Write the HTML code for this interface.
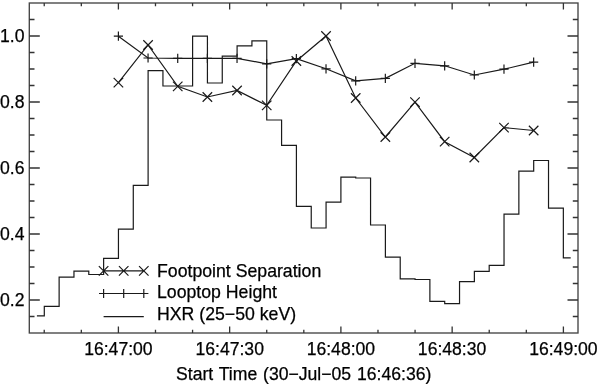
<!DOCTYPE html>
<html><head><meta charset="utf-8"><title>plot</title>
<style>
html,body{margin:0;padding:0;background:#fff;}
svg{display:block;will-change:transform}
text{font-family:"Liberation Sans",sans-serif;font-size:17.6px;fill:#000;stroke:#000;stroke-width:0.25px;}
</style></head><body>
<svg width="600" height="384" viewBox="0 0 600 384">
<rect width="600" height="384" fill="#fff"/>
<g fill="none" stroke="#1a1a1a" stroke-width="1.2" stroke-linejoin="miter">
<path d="M36.90,315.80 L44.30,315.80 L44.30,306.40 L59.13,306.40 L59.13,277.20 L73.96,277.20 L73.96,271.20 L88.79,271.20 L88.79,274.50 L103.62,274.50 L103.62,258.30 L118.45,258.30 L118.45,229.20 L133.28,229.20 L133.28,185.30 L148.11,185.30 L148.11,70.70 L162.94,70.70 L162.94,86.00 L177.77,86.00 L177.77,86.00 L192.60,86.00 L192.60,36.20 L207.43,36.20 L207.43,83.00 L222.26,83.00 L222.26,56.20 L237.09,56.20 L237.09,45.80 L251.92,45.80 L251.92,40.80 L266.75,40.80 L266.75,120.00 L281.58,120.00 L281.58,145.30 L296.41,145.30 L296.41,206.30 L311.24,206.30 L311.24,228.00 L326.07,228.00 L326.07,202.20 L340.90,202.20 L340.90,177.20 L355.73,177.20 L355.73,178.00 L370.56,178.00 L370.56,225.00 L385.39,225.00 L385.39,257.20 L400.22,257.20 L400.22,278.80 L415.05,278.80 L415.05,279.50 L429.88,279.50 L429.88,301.30 L444.71,301.30 L444.71,303.70 L459.54,303.70 L459.54,281.70 L474.37,281.70 L474.37,271.30 L489.20,271.30 L489.20,265.30 L504.03,265.30 L504.03,214.20 L518.86,214.20 L518.86,171.20 L533.69,171.20 L533.69,160.50 L548.52,160.50 L548.52,208.20 L563.35,208.20 L563.35,257.80 L570.70,257.80"/>
<path d="M118.40,36.20 L148.06,58.00 L177.72,58.30 L207.38,58.30 L237.04,58.30 L266.70,63.80 L296.36,58.70 L326.02,68.80 L355.68,80.80 L385.34,78.30 L415.00,63.30 L444.66,65.80 L474.32,75.00 L503.98,69.20 L533.64,62.20"/>
<path d="M118.40,82.70 L148.06,45.00 L177.72,86.30 L207.38,97.00 L237.04,90.50 L266.70,105.30 L296.36,61.00 L326.02,36.00 L355.68,98.00 L385.34,137.00 L415.00,102.20 L444.66,141.70 L474.32,157.50 L503.98,127.60 L533.64,130.50"/>
<path d="M113.80,36.20H123.00M118.40,31.60V40.80M143.46,58.00H152.66M148.06,53.40V62.60M173.12,58.30H182.32M177.72,53.70V62.90M202.78,58.30H211.98M207.38,53.70V62.90M232.44,58.30H241.64M237.04,53.70V62.90M262.10,63.80H271.30M266.70,59.20V68.40M291.76,58.70H300.96M296.36,54.10V63.30M321.42,68.80H330.62M326.02,64.20V73.40M351.08,80.80H360.28M355.68,76.20V85.40M380.74,78.30H389.94M385.34,73.70V82.90M410.40,63.30H419.60M415.00,58.70V67.90M440.06,65.80H449.26M444.66,61.20V70.40M469.72,75.00H478.92M474.32,70.40V79.60M499.38,69.20H508.58M503.98,64.60V73.80M529.04,62.20H538.24M533.64,57.60V66.80"/>
<path d="M113.65,77.95L123.15,87.45M113.65,87.45L123.15,77.95M143.31,40.25L152.81,49.75M143.31,49.75L152.81,40.25M172.97,81.55L182.47,91.05M172.97,91.05L182.47,81.55M202.63,92.25L212.13,101.75M202.63,101.75L212.13,92.25M232.29,85.75L241.79,95.25M232.29,95.25L241.79,85.75M261.95,100.55L271.45,110.05M261.95,110.05L271.45,100.55M291.61,56.25L301.11,65.75M291.61,65.75L301.11,56.25M321.27,31.25L330.77,40.75M321.27,40.75L330.77,31.25M350.93,93.25L360.43,102.75M350.93,102.75L360.43,93.25M380.59,132.25L390.09,141.75M380.59,141.75L390.09,132.25M410.25,97.45L419.75,106.95M410.25,106.95L419.75,97.45M439.91,136.95L449.41,146.45M439.91,146.45L449.41,136.95M469.57,152.75L479.07,162.25M469.57,162.25L479.07,152.75M499.23,122.85L508.73,132.35M499.23,132.35L508.73,122.85M528.89,125.75L538.39,135.25M528.89,135.25L538.39,125.75"/>
<path d="M103.6,270.9H143.8M98.85,266.15L108.35,275.65M98.85,275.65L108.35,266.15M118.95,266.15L128.45,275.65M118.95,275.65L128.45,266.15M139.05,266.15L148.55,275.65M139.05,275.65L148.55,266.15M103.6,293.5H143.8M99.00,293.50H108.20M103.60,288.90V298.10M119.10,293.50H128.30M123.70,288.90V298.10M139.20,293.50H148.40M143.80,288.90V298.10M103.6,316.6H143.8"/>
</g>
<g fill="none" stroke="#444" stroke-width="1.35">
<rect x="29.3" y="3.0" width="548.7" height="330.0"/>
</g>
<g fill="none" stroke="#333" stroke-width="1.3"><path d="M29.3,316.50h5.2M578.0,316.50h-5.2M29.3,300.00h10.5M578.0,300.00h-10.5M29.3,283.50h5.2M578.0,283.50h-5.2M29.3,267.00h5.2M578.0,267.00h-5.2M29.3,250.50h5.2M578.0,250.50h-5.2M29.3,234.00h10.5M578.0,234.00h-10.5M29.3,217.50h5.2M578.0,217.50h-5.2M29.3,201.00h5.2M578.0,201.00h-5.2M29.3,184.50h5.2M578.0,184.50h-5.2M29.3,168.00h10.5M578.0,168.00h-10.5M29.3,151.50h5.2M578.0,151.50h-5.2M29.3,135.00h5.2M578.0,135.00h-5.2M29.3,118.50h5.2M578.0,118.50h-5.2M29.3,102.00h10.5M578.0,102.00h-10.5M29.3,85.50h5.2M578.0,85.50h-5.2M29.3,69.00h5.2M578.0,69.00h-5.2M29.3,52.50h5.2M578.0,52.50h-5.2M29.3,36.00h10.5M578.0,36.00h-10.5M29.3,19.50h5.2M578.0,19.50h-5.2M44.23,333.0v-3.2M44.23,3.0v3.2M81.32,333.0v-3.2M81.32,3.0v3.2M118.40,333.0v-6.6M118.40,3.0v6.6M155.48,333.0v-3.2M155.48,3.0v3.2M192.57,333.0v-3.2M192.57,3.0v3.2M229.65,333.0v-6.6M229.65,3.0v6.6M266.73,333.0v-3.2M266.73,3.0v3.2M303.82,333.0v-3.2M303.82,3.0v3.2M340.90,333.0v-6.6M340.90,3.0v6.6M377.98,333.0v-3.2M377.98,3.0v3.2M415.07,333.0v-3.2M415.07,3.0v3.2M452.15,333.0v-6.6M452.15,3.0v6.6M489.23,333.0v-3.2M489.23,3.0v3.2M526.32,333.0v-3.2M526.32,3.0v3.2M563.40,333.0v-6.6M563.40,3.0v6.6"/></g>
<text x="24.5" y="306.3" text-anchor="end">0.2</text><text x="24.5" y="240.3" text-anchor="end">0.4</text><text x="24.5" y="174.3" text-anchor="end">0.6</text><text x="24.5" y="108.3" text-anchor="end">0.8</text><text x="24.5" y="42.3" text-anchor="end">1.0</text>
<text x="118.4" y="354.8" text-anchor="middle">16:47:00</text><text x="229.7" y="354.8" text-anchor="middle">16:47:30</text><text x="340.9" y="354.8" text-anchor="middle">16:48:00</text><text x="452.1" y="354.8" text-anchor="middle">16:48:30</text><text x="563.4" y="354.8" text-anchor="middle">16:49:00</text>
<text x="157.0" y="276.9" style="font-size:17.7px">Footpoint Separation</text>
<text x="157.0" y="298.3" style="font-size:17.7px">Looptop Height</text>
<text x="157.0" y="319.8" style="font-size:17.7px">HXR (25−50 keV)</text>
<text x="303.7" y="380.0" text-anchor="middle" style="word-spacing:1px">Start Time (30−Jul−05 16:46:36)</text>
</svg>
</body></html>
